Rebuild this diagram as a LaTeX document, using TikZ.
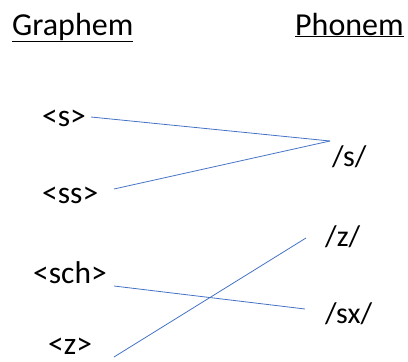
\documentclass[tikz,border=0pt]{standalone}
\usepackage{fontspec}
\setmainfont{Carlito}
\definecolor{linkblue}{RGB}{68,114,196}
\begin{document}
\begin{tikzpicture}[x=1pt,y=-1pt,
  lbl/.style={anchor=base west,inner sep=0pt,font=\fontsize{30}{36}\selectfont},
  glbl/.style={anchor=base west,inner sep=0pt,font=\fontsize{31.5}{38}\selectfont},
  ttl/.style={anchor=base west,inner sep=0pt,font=\fontsize{32}{38}\selectfont},
  link/.style={draw=linkblue,line width=0.8pt}]
\useasboundingbox (0,0) rectangle (408,362);
\node[ttl] (gt) at (12,35) {\underline{Graphem}};
\node[ttl] (pt) at (295,35) {\underline{Phonem}};
\node[glbl] (gs) at (42,126) {<s>};
\node[glbl] (gss) at (42,203) {<ss>};
\node[glbl] (gsch) at (33,283) {<sch>};
\node[glbl] (gz) at (48,354) {<z>};
\node[lbl] (ps) at (332,166) {/s/};
\node[lbl] (pz) at (325,246) {/z/};
\node[lbl] (psx) at (325,323) {/sx/};
\coordinate (a1) at (91,117);
\coordinate (a2) at (114,189);
\coordinate (a3) at (114,286);
\coordinate (a4) at (114,357);
\coordinate (b1) at (330,141);
\coordinate (b2) at (305,309);
\coordinate (b3) at (306,238);
\draw[link] (a1) -- (b1);
\draw[link] (a2) -- (b1);
\draw[link] (a3) -- (b2);
\draw[link] (a4) -- (b3);
\end{tikzpicture}
\end{document}
